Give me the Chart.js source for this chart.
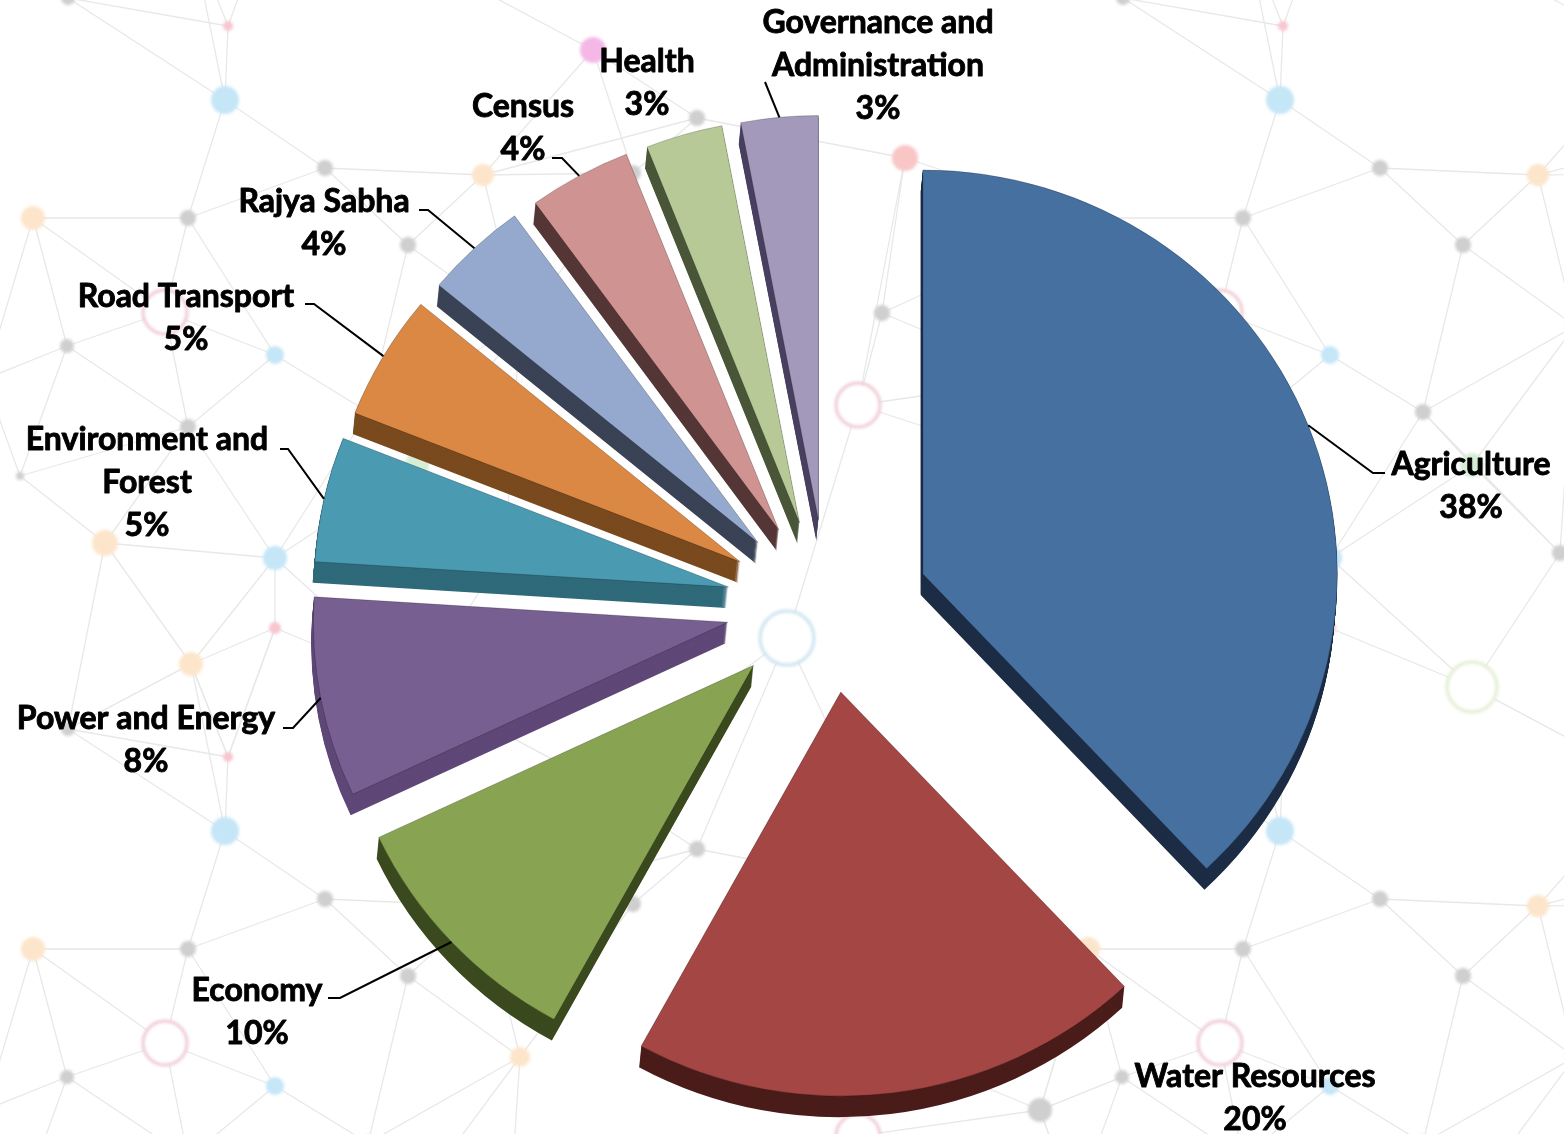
<!DOCTYPE html>
<html>
<head>
<meta charset="utf-8">
<script src="https://cdn.jsdelivr.net/npm/chart.js@4.4.1/dist/chart.umd.min.js"></script>
<style>
html,body{margin:0;padding:0;background:#fff;}
#wrap{width:1564px;height:1134px;position:relative;}
</style>
</head>
<body>
<div id="wrap"><canvas id="pie"></canvas></div>
<script>
// data, clockwise from 12 o'clock
const categories = ['Agriculture','Water Resources','Economy','Power and Energy','Environment and Forest','Road Transport','Rajya Sabha','Census','Health','Governance and Administration'];
const shares = [38, 20, 10, 8, 5, 5, 4, 4, 3, 3];
const labelLines = [['Agriculture'],['Water Resources'],['Economy'],['Power and Energy'],['Environment and','Forest'],['Road Transport'],['Rajya Sabha'],['Census'],['Health'],['Governance and','Administration']];

// colours
const topColors  = ['#4570a0','#a34644','#88a352','#775f91','#4a9bb2','#db8844','#94a9cd','#cf9391','#b7c996','#a399ba'];
const sideColors = ['#1c2c45','#4a1c1a','#3b4a1e','#5f4878','#2f6a7a','#7a4a1f','#3a4255','#553636','#4a5638','#4a4060'];

// label placement: x centre, first baseline, hook = short horizontal piece next to the text
const labelLayout = [
  {x:1471, y:475,  hook:[1385,473,1373]},
  {x:1255, y:1087, hook:null},
  {x:257,  y:1001, hook:[328,998,340]},
  {x:146,  y:729,  hook:[283,728,293]},
  {x:147,  y:450,  hook:[280,449,288]},
  {x:186,  y:307,  hook:[305,304,314]},
  {x:324,  y:212,  hook:[419,210,428]},
  {x:523,  y:117,  hook:[552,158,562]},
  {x:647,  y:72,   hook:null},
  {x:878,  y:33,   hook:[765,82]}
];
const LINE_GAP = 43;

// 3d look
const EXPLODE = 102, EXPLODE_Y = 0.85, TILT = 0.975, DEPTH = 21, DEPTH_X = -0.1;

// background network, one repeating tile
const TILE_W = 1055, TILE_H = 731;
const bgNodes = [
  [68,-2,7,'g'],[228,26,5,'pk'],[225,100,14,'b'],[325,168,8,'g'],[188,218,8,'g'],[33,218,12,'o'],
  [483,175,11,'o'],[408,245,8,'g'],[67,346,7,'g'],[275,355,9,'b'],[165,312,22,'rp'],[188,427,8,'g'],
  [20,476,4,'g'],[105,543,13,'o'],[275,558,12,'b'],[275,628,6,'pk'],[191,664,12,'o'],[593,50,13,'m'],
  [697,118,8,'g'],[633,173,8,'g'],[905,158,13,'p'],[882,313,8,'g'],[858,405,22,'rp'],[787,638,27,'rb'],
  [520,326,10,'o'],[1040,379,12,'g'],[368,412,8,'g'],[417,465,12,'gr'],[417,687,25,'rg'],[505,553,8,'g']
];
const nodeFill = {g:'#cfcfcf', b:'#c4e6f7', o:'#fde5cb', pk:'#f7c6cf', m:'#f5b8e6', p:'#f9c6c6', gr:'#d6edd6'};
const ringStroke = {rp:'#efc9d2', rb:'#c9e3ef', rg:'#e1edd2'};

function mid(arc){ return (arc.startAngle + arc.endAngle) / 2; }
function sliceShift(arc){ const m = mid(arc); return [Math.cos(m)*EXPLODE, Math.sin(m)*EXPLODE*EXPLODE_Y]; }
function tilt(ctx, arc){ ctx.translate(arc.x, arc.y); ctx.scale(1, TILT); ctx.translate(-arc.x, -arc.y); }
function edgePoint(arc){
  const m = mid(arc), s = sliceShift(arc);
  return [arc.x + s[0] + Math.cos(m)*arc.outerRadius, arc.y + s[1] + Math.sin(m)*arc.outerRadius*TILT];
}

function drawNetwork(ctx){
  const all = [];
  for (let ty=-1; ty<=1; ty++) for (let tx=-1; tx<=1; tx++)
    bgNodes.forEach(n => all.push([n[0]+tx*TILE_W, n[1]+ty*TILE_H]));
  const edges = [];
  bgNodes.forEach(n => {
    const near = all.map(p => [p, Math.hypot(p[0]-n[0], p[1]-n[1])]).filter(q => q[1] > 1)
      .sort((a,b) => a[1]-b[1]).slice(0, 4);
    near.forEach(q => edges.push([n[0], n[1], q[0][0], q[0][1]]));
  });
  ctx.save();
  ctx.strokeStyle = '#e8e8e8'; ctx.lineWidth = 1.3;
  for (let ty=0; ty<=1; ty++) for (let tx=0; tx<=1; tx++) {
    const ox = tx*TILE_W, oy = ty*TILE_H;
    ctx.beginPath();
    edges.forEach(e => { ctx.moveTo(e[0]+ox, e[1]+oy); ctx.lineTo(e[2]+ox, e[3]+oy); });
    ctx.stroke();
  }
  ctx.filter = 'blur(1.5px)';
  for (let ty=-1; ty<=1; ty++) for (let tx=0; tx<=1; tx++) {
    bgNodes.forEach(n => {
      const x = n[0]+tx*TILE_W, y = n[1]+ty*TILE_H;
      ctx.beginPath(); ctx.arc(x, y, n[2], 0, Math.PI*2);
      if (ringStroke[n[3]]) { ctx.fillStyle = '#fff'; ctx.fill(); ctx.strokeStyle = ringStroke[n[3]]; ctx.lineWidth = 3; ctx.stroke(); }
      else { ctx.fillStyle = nodeFill[n[3]]; ctx.fill(); }
    });
  }
  ctx.restore();
}

const backdrop = {
  id: 'backdrop',
  beforeDraw(chart){
    const ctx = chart.ctx;
    ctx.save(); ctx.fillStyle = '#fff'; ctx.fillRect(0, 0, chart.width, chart.height); ctx.restore();
    drawNetwork(ctx);
  }
};

const pie3d = {
  id: 'pie3d',
  beforeDatasetsDraw(chart){
    const ctx = chart.ctx;
    const arcs = chart.getDatasetMeta(0).data;
    const order = arcs.map((a,i) => i).sort((i,j) => Math.sin(mid(arcs[i])) - Math.sin(mid(arcs[j])));
    order.forEach(i => {
      const arc = arcs[i];
      const s = sliceShift(arc);
      const base = arc.options;
      arc.options = Object.assign({}, base, {backgroundColor: sideColors[i], borderColor: sideColors[i], borderWidth: 0});
      for (let k=DEPTH; k>=1; k--) {
        ctx.save(); ctx.translate(s[0] + DEPTH_X*k, s[1] + k); tilt(ctx, arc); arc.draw(ctx); ctx.restore();
      }
      arc.options = base;
      ctx.save(); ctx.translate(s[0], s[1]); tilt(ctx, arc); arc.draw(ctx); ctx.restore();
    });
    return false;
  }
};

const calloutLabels = {
  id: 'calloutLabels',
  afterDraw(chart){
    const ctx = chart.ctx;
    const arcs = chart.getDatasetMeta(0).data;
    ctx.save();
    ctx.strokeStyle = '#000'; ctx.lineWidth = 2;
    labelLayout.forEach((L, i) => {
      if (!L.hook) return;
      const end = edgePoint(arcs[i]);
      ctx.beginPath();
      ctx.moveTo(L.hook[0], L.hook[1]);
      if (L.hook.length > 2) ctx.lineTo(L.hook[2], L.hook[1]);
      ctx.lineTo(end[0], end[1]);
      ctx.stroke();
    });
    ctx.fillStyle = '#000'; ctx.textAlign = 'center'; ctx.textBaseline = 'alphabetic';
    ctx.font = 'bold 32px Lato, "Open Sans", sans-serif';
    ctx.lineWidth = 0.9; ctx.lineJoin = 'round';
    labelLayout.forEach((L, i) => {
      const lines = labelLines[i].concat([shares[i] + '%']);
      lines.forEach((t, j) => { ctx.fillText(t, L.x, L.y + j*LINE_GAP); ctx.strokeText(t, L.x, L.y + j*LINE_GAP); });
    });
    ctx.restore();
  }
};

new Chart(document.getElementById('pie'), {
  type: 'pie',
  data: { labels: categories, datasets: [{ data: shares, backgroundColor: topColors, borderColor: 'rgba(0,0,0,0.22)', borderWidth: 1, hoverOffset: 0 }] },
  options: {
    responsive: true, maintainAspectRatio: false, animation: false, events: [],
    layout: { padding: { left: 413, right: 321, top: 191, bottom: 113 } },
    plugins: { legend: { display: false }, tooltip: { enabled: false } }
  },
  plugins: [backdrop, pie3d, calloutLabels]
});
</script>
</body>
</html>
